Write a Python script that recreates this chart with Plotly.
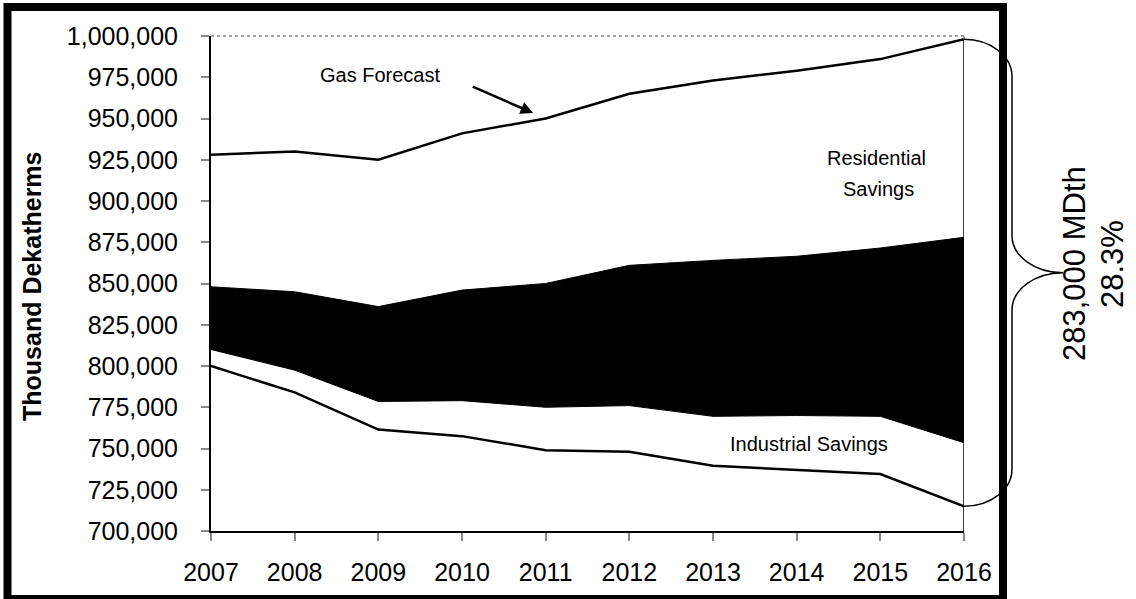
import plotly.graph_objects as go

# Annual gas demand (thousand dekatherms)
years = [2007, 2008, 2009, 2010, 2011, 2012, 2013, 2014, 2015, 2016]
gas_forecast = [928000, 930000, 925000, 941000, 950000, 965000, 973000, 979000, 986000, 998000]
after_residential = [848000, 845000, 836000, 846000, 850000, 861000, 864000, 866500, 871500, 878000]
after_commercial = [810000, 797500, 778500, 779000, 775000, 776000, 769500, 770000, 769500, 753500]
after_industrial = [800000, 784000, 761500, 757500, 749000, 748000, 739500, 737000, 734500, 715000]

y_ticks = list(range(700000, 1000001, 25000))
total_savings_label = "283,000 MDth"
total_savings_pct = "28.3%"

FONT = "Arial, Liberation Sans, sans-serif"

# page / plot-area geometry in pixels
W, H = 1136, 599
L, R, T, B = 211, 964, 36, 531


def px(xp):
    return (xp - L) / (R - L)


def py(yp):
    return (B - yp) / (B - T)


fig = go.Figure()

# black band between the residential and commercial curves
fig.add_trace(go.Scatter(x=years, y=after_commercial, mode="lines",
                         line=dict(color="black", width=1), showlegend=False,
                         hoverinfo="skip"))
fig.add_trace(go.Scatter(x=years, y=after_residential, mode="lines", fill="tonexty",
                         fillcolor="black", line=dict(color="black", width=1),
                         showlegend=False, hoverinfo="skip"))
fig.add_trace(go.Scatter(x=years, y=gas_forecast, mode="lines",
                         line=dict(color="black", width=2.5), showlegend=False))
fig.add_trace(go.Scatter(x=years, y=after_industrial, mode="lines",
                         line=dict(color="black", width=2.5), showlegend=False))

shapes = []
# plot-area border: dotted grey top, black right edge below the forecast line
shapes.append(dict(type="line", xref="paper", yref="paper", x0=0, x1=1, y0=1, y1=1,
                   line=dict(color="#888888", width=1.5, dash="dot")))
shapes.append(dict(type="line", xref="paper", yref="y", x0=1, x1=1,
                   y0=gas_forecast[-1], y1=1000000,
                   line=dict(color="#888888", width=1.5, dash="dot")))
shapes.append(dict(type="line", xref="x", yref="y", x0=years[-1], x1=years[-1],
                   y0=700000, y1=gas_forecast[-1],
                   line=dict(color="black", width=1.5)))

# curly brace spanning total savings in the final year
top, bot = gas_forecast[-1], after_industrial[-1]


def by(f):
    return top - f * (top - bot)


x0, xv, xt = 1.0, px(1012), px(1063)
k = 0.552
r = 0.08
path = (
    f"M {x0},{by(0)} "
    f"C {x0 + k * (xv - x0)},{by(0)} {xv},{by(r * (1 - k))} {xv},{by(r)} "
    f"L {xv},{by(0.5 - r)} "
    f"C {xv},{by(0.5 - r + k * r)} {xt - k * (xt - xv)},{by(0.5)} {xt},{by(0.5)} "
    f"C {xt - k * (xt - xv)},{by(0.5)} {xv},{by(0.5 + r - k * r)} {xv},{by(0.5 + r)} "
    f"L {xv},{by(1 - r)} "
    f"C {xv},{by(1 - r + k * r)} {x0 + k * (xv - x0)},{by(1)} {x0},{by(1)}"
)
shapes.append(dict(type="path", xref="paper", yref="y", path=path,
                   line=dict(color="black", width=1.5)))

# heavy outer frame
shapes.append(dict(type="rect", xref="paper", yref="paper",
                   x0=px(7.5), x1=px(1003), y0=py(599), y1=py(7),
                   line=dict(color="black", width=8), fillcolor="rgba(0,0,0,0)"))


def label(x, y, text, size, xref="x", yref="y", angle=0):
    return dict(x=x, y=y, xref=xref, yref=yref, text=text, showarrow=False,
                xanchor="center", yanchor="middle", textangle=angle,
                font=dict(family=FONT, size=size, color="black"))


annotations = [
    label(2009.02, 976400, "Gas Forecast", 20),
    dict(x=2010.85, y=953300, ax=2010.11, ay=969700, xref="x", yref="y",
         axref="x", ayref="y", text="", showarrow=True, arrowhead=2, arrowsize=1,
         arrowwidth=2.5, arrowcolor="black"),
    label(2014.96, 926000, "Residential", 20),
    label(2014.98, 907000, "Savings", 20),
    label(2014.15, 752700, "Industrial Savings", 20),
    label(px(1074), py(264), total_savings_label, 31, "paper", "paper", -90),
    label(px(1112), py(264), total_savings_pct, 31, "paper", "paper", -90),
    label(px(32), py(286), "<b>Thousand Dekatherms</b>", 25, "paper", "paper", -90),
]

fig.update_layout(
    width=W, height=H,
    margin=dict(l=L, r=W - R, t=T, b=H - B, pad=0),
    paper_bgcolor="white", plot_bgcolor="white",
    font=dict(family=FONT, color="black"),
    shapes=shapes, annotations=annotations,
    showlegend=False,
)
fig.update_xaxes(range=[2007, 2016], tickvals=years, ticktext=[str(y) for y in years],
                 ticks="outside", ticklen=8, tickwidth=1.5, tickcolor="#888888",
                 showline=True, linecolor="black", linewidth=2, showgrid=False,
                 zeroline=False, tickfont=dict(family=FONT, size=25, color="black"),
                 ticklabelstandoff=10)
fig.update_yaxes(range=[700000, 1000000], tickvals=y_ticks, tickformat=",d",
                 ticks="outside", ticklen=8, tickwidth=1.5, tickcolor="#888888",
                 showline=True, linecolor="black", linewidth=2, showgrid=False,
                 zeroline=False, tickfont=dict(family=FONT, size=25, color="black"),
                 ticklabelstandoff=18)

fig.write_html("out.html")
